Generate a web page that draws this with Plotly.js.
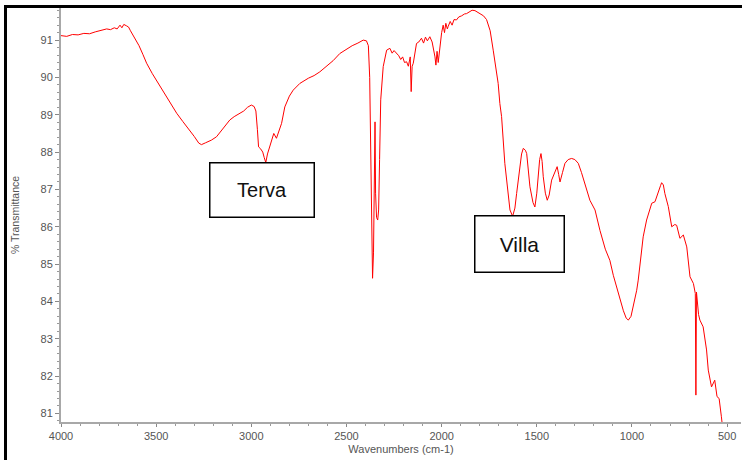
<!DOCTYPE html>
<html>
<head>
<meta charset="utf-8">
<script src="https://cdn.plot.ly/plotly-3.0.1.min.js"></script>
<style>
  html, body { margin: 0; padding: 0; background: #fff; }
  #wrap { position: relative; width: 742px; height: 460px; overflow: hidden; }
  #chart { width: 742px; height: 460px; }
  #frame { position: absolute; left: 4px; top: 5px; width: 760px; height: 452px;
           border-left: 3px solid #000; border-top: 3px solid #000; border-bottom: 1px solid #d0d0d0;
           pointer-events: none; }
</style>
</head>
<body>
<div id="wrap">
  <div id="chart"></div>
  <div id="frame"></div>
</div>
<script>
// Wavenumbers (cm-1)
const wavenumbers = [
  4000,3970,3940,3910,3880,3850,3820,3790,3760,3740,3720,3705,3690,3680,3670,3655,3645,3635,3620,3607,
  3590,3570,3550,3520,3490,3465,3430,3392,3360,3323,3300,3276,3262,3240,3210,3183,3150,3113,3090,3078,
  3060,3040,3020,3000,2985,2976,2968,2962,2950,2940,2932,2924,2915,2903,2890,2882,2868,2855,2841,2824,
  2800,2780,2745,2700,2670,2640,2600,2570,2535,2500,2470,2440,2412,2395,2385,2378,2372,2367,2363,2358,
  2354,2350,2347,2342,2336,2331,2326,2320,2307,2289,2272,2260,2250,2237,2225,2215,2205,2195,2184,2175,
  2165,2160,2155,2149,2132,2120,2106,2095,2085,2075,2062,2050,2044,2035,2030,2024,2018,2009,2000,1992,
  1985,1978,1970,1966,1955,1945,1935,1922,1910,1895,1880,1869,1855,1840,1825,1810,1799,1780,1764,1745,
  1729,1715,1703,1694,1685,1668,1655,1641,1627,1615,1606,1589,1580,1571,1560,1553,1545,1536,1520,1510,
  1500,1493,1485,1478,1472,1466,1455,1445,1435,1422,1405,1393,1385,1378,1365,1352,1335,1317,1300,1282,
  1265,1247,1221,1194,1168,1140,1116,1098,1081,1063,1045,1030,1019,1005,993,984,975,967,958,941,
  923,896,879,862,850,844,835,827,809,791,775,765,748,730,712,695,677,667,664,661,
  650,643,626,608,599,582,565,553,542,530,527
];
// % Transmittance
const transmittance = [
  91.12,91.10,91.15,91.14,91.18,91.17,91.22,91.25,91.30,91.28,91.33,91.30,91.40,91.33,91.42,91.38,91.35,91.25,91.12,91.00,
  90.85,90.62,90.38,90.10,89.85,89.66,89.35,89.04,88.82,88.59,88.42,88.24,88.20,88.25,88.32,88.41,88.62,88.86,88.95,88.99,
  89.03,89.10,89.20,89.26,89.22,89.10,88.60,88.14,88.08,88.00,87.85,87.72,87.95,88.14,88.40,88.50,88.37,88.55,88.77,89.21,
  89.50,89.66,89.84,89.98,90.05,90.15,90.32,90.45,90.64,90.75,90.85,90.92,91.00,90.98,90.85,90.00,88.00,86.00,84.62,85.30,
  86.60,88.81,86.90,86.25,86.18,86.45,87.80,89.40,90.29,90.73,90.78,90.65,90.72,90.64,90.58,90.48,90.55,90.40,90.42,90.30,
  90.55,89.62,90.30,90.38,90.91,90.95,91.05,90.92,91.08,90.98,91.09,90.95,90.82,90.55,90.33,90.70,90.40,90.91,91.20,91.40,
  91.20,91.45,91.30,91.36,91.50,91.40,91.55,91.54,91.62,91.65,91.70,91.71,91.76,91.80,91.79,91.75,91.71,91.65,91.55,91.25,
  90.73,90.30,89.84,89.30,88.95,87.70,87.00,86.45,86.28,86.50,86.89,87.61,87.95,88.10,88.05,87.96,87.60,87.07,86.65,86.53,
  86.90,87.43,87.80,87.96,87.75,87.34,86.90,86.71,86.85,87.25,87.47,87.61,87.40,87.20,87.45,87.70,87.80,87.83,87.80,87.70,
  87.45,87.16,86.71,86.45,85.90,85.40,85.10,84.70,84.39,84.10,83.75,83.55,83.50,83.60,83.86,84.10,84.30,84.57,85.02,85.73,
  86.18,86.63,86.67,86.89,87.10,87.18,87.12,86.89,86.54,86.00,86.06,86.04,85.69,85.78,85.46,84.66,84.48,84.21,81.49,84.25,
  83.65,83.50,83.32,82.70,82.16,81.71,81.89,81.45,81.40,80.91,80.77
];

const xTickVals = [4000,3500,3000,2500,2000,1500,1000,500];
const xTickText = ["4000","3500","3000","2500","2000","1500","1000","500"];
const yTickVals = [81,82,83,84,85,86,87,88,89,90,91];
const yTickText = ["81","82","83","84","85","86","87","88","89","90","91"];
const labelTexts = ["Terva","Villa"];

const tickFont = {family: "Liberation Sans, Arial, sans-serif", size: 11, color: "#555"};

const trace = {
  x: wavenumbers, y: transmittance, type: "scatter", mode: "lines",
  line: {color: "rgb(255,0,0)", width: 1}, hoverinfo: "skip"
};

const layout = {
  width: 742, height: 460,
  margin: {l: 61, r: 1, t: 8, b: 38},
  paper_bgcolor: "#fff", plot_bgcolor: "#fff",
  showlegend: false,
  xaxis: {
    range: [4000, 427], showgrid: false, zeroline: false,
    showline: true, linecolor: "#a8a8a8", linewidth: 2,
    ticks: "outside", ticklen: 3, tickcolor: "#888", tickwidth: 1,
    tickvals: xTickVals, ticktext: xTickText, tickfont: tickFont,
    minor: {dtick: 100, ticks: "outside", ticklen: 2, tickcolor: "#999", showgrid: false},
    title: {text: "Wavenumbers (cm-1)", font: {family: "Liberation Sans, Arial, sans-serif", size: 11, color: "#555"}, standoff: 4}
  },
  yaxis: {
    range: [80.77, 91.86], showgrid: false, zeroline: false,
    showline: true, linecolor: "#a8a8a8", linewidth: 2,
    ticks: "outside", ticklen: 4, tickcolor: "#888", tickwidth: 1,
    tickvals: yTickVals, ticktext: yTickText, tickfont: tickFont,
    minor: {dtick: 0.2, ticks: "outside", ticklen: 2, tickcolor: "#999", showgrid: false},
    title: {text: "% Transmittance", font: {family: "Liberation Sans, Arial, sans-serif", size: 10.5, color: "#555"}, standoff: 19}
  },
  annotations: [
    {xref: "paper", yref: "paper", x: 0.2963, y: 0.56, xanchor: "center", yanchor: "middle",
     text: labelTexts[0], showarrow: false, width: 101, height: 51, borderpad: 1,
     bordercolor: "#000", borderwidth: 1.5, bgcolor: "#fff",
     font: {family: "Liberation Sans, Arial, sans-serif", size: 20, color: "#111"}},
    {xref: "paper", yref: "paper", x: 0.6746, y: 0.4295, xanchor: "center", yanchor: "middle",
     text: labelTexts[1], showarrow: false, width: 86, height: 53, borderpad: 1,
     bordercolor: "#000", borderwidth: 1.5, bgcolor: "#fff",
     font: {family: "Liberation Sans, Arial, sans-serif", size: 21, color: "#111"}}
  ]
};

Plotly.newPlot("chart", [trace], layout, {staticPlot: true, displayModeBar: false});
</script>
</body>
</html>
